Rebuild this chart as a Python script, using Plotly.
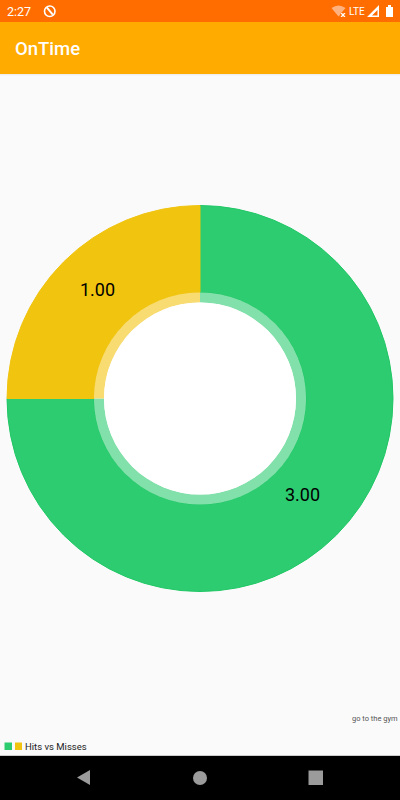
import plotly.graph_objects as go

categories = ["Hits", "Misses"]
values = [3, 1]
outer_colors = ["#2ecc71", "#f1c40f"]
edge_colors = ["#1fc765", "#f1c40f"]
ring_colors = ["#82e0aa", "#f8dc72"]
W, H = 400, 800
CX, CY = 200, 398.5
R_OUT, R_RING, R_HOLE = 193, 106, 96


def dom(r):
    return dict(x=[(CX - r) / W, (CX + r) / W], y=[1 - (CY + r) / H, 1 - (CY - r) / H])


def px(x0, y0, x1, y1, color, kind="rect", layer="below"):
    return dict(type=kind, xref="paper", yref="paper", x0=x0 / W, x1=x1 / W,
                y0=1 - y0 / H, y1=1 - y1 / H, fillcolor=color, line_width=0, layer=layer)


def path(d, color):
    return dict(type="path", xref="x", yref="y", path=d, fillcolor=color, line_width=0, layer="above")


def note(x, y, text, size, color, xanchor="left", family="Roboto", weight=None):
    return dict(xref="paper", yref="paper", x=x / W, y=1 - y / H, text=text, showarrow=False,
                xanchor=xanchor, yanchor="middle", borderpad=0, borderwidth=0,
                font=dict(size=size, color=color, family=family, weight=weight))


fig = go.Figure()
fig.add_trace(go.Pie(labels=categories, values=values, sort=False, direction="clockwise", rotation=0,
                     domain=dom(R_OUT), hole=R_RING / R_OUT,
                     marker=dict(colors=outer_colors, line=dict(width=1, color=edge_colors)),
                     textinfo="none", hoverinfo="skip", showlegend=False))
fig.add_trace(go.Pie(labels=categories, values=values, sort=False, direction="clockwise", rotation=0,
                     domain=dom(R_RING), hole=R_HOLE / R_RING,
                     marker=dict(colors=ring_colors, line=dict(width=0)),
                     textinfo="none", hoverinfo="skip", showlegend=False))

shapes = [
    px(0, 0, W, 22, "#ff6d00"),
    px(0, 22, W, 74, "#ffab00"),
    px(0, 74, W, 75, "#eeeeee"),
    px(0, 75, W, 76, "#f6f6f6"),
    px(0, 755, W, 756, "#cccccc"),
    px(0, 756, W, 800, "#000000"),
    px(CX - R_HOLE, CY - R_HOLE, CX + R_HOLE, CY + R_HOLE, "#ffffff", "circle", "above"),
    px(4.5, 742.5, 12, 750, outer_colors[0]),
    px(15, 742.5, 22, 750, outer_colors[1]),
    px(193, 771, 207, 785, "#9b9b9b", "circle"),
    px(308.5, 770.5, 323, 785, "#9b9b9b"),
    path("M 90 770 L 90 785 L 77 777.5 Z", "#9b9b9b"),
    # status bar icons
    path("M 331.5 8 Q 338.5 3 345.5 8 L 342 12 L 340 14 L 340 15 L 338.5 16.5 Z", "#ffb27f"),
    path("M 340.5 13 L 342 13 L 343 14 L 344 13 L 345.5 13 L 344 15 L 345.5 17 L 344 17 L 343 16 L 342 17 L 340.5 17 L 342 15 Z", "#ffffff"),
    path("M 367 17 L 379 5 L 379 17 Z M 372 15.5 L 377.5 15.5 L 377.5 10 Z", "#ffffff"),
    path("M 386 7 L 393 7 L 393 17 L 386 17 Z", "#ffffff"),
    path("M 388 5 L 391 5 L 391 7 L 388 7 Z", "#ffffff"),
    dict(type="circle", xref="paper", yref="paper", x0=44.5 / W, x1=55 / W, y0=1 - 6 / H, y1=1 - 16.5 / H,
         fillcolor="rgba(0,0,0,0)", line=dict(color="#ffffff", width=1.6), layer="above"),
    path("M 46 8 L 47.5 6.8 L 53.5 14 L 52 15.2 Z", "#ffffff"),
]

annotations = [
    note(7, 11.5, "2:27", 12.5, "#ffffff"),
    note(349, 11, "LTE", 10, "#ffffff"),
    note(15, 49, "OnTime", 18.5, "#ffffff", weight=500),
    note(398, 718.5, "go to the gym", 7.5, "#555555", "right"),
    note(25, 746.5, "Hits vs Misses", 9.5, "#222222"),
    note(302.5, 494, f"{values[0]:.2f}", 18, "#000000", "center"),
    note(97.5, 289, f"{values[1]:.2f}", 18, "#000000", "center"),
]

fig.update_layout(width=W, height=H, margin=dict(l=0, r=0, t=0, b=0), autosize=False,
                  paper_bgcolor="#fafafa", plot_bgcolor="rgba(0,0,0,0)", showlegend=False,
                  shapes=shapes, annotations=annotations,
                  xaxis=dict(range=[0, W], visible=False, fixedrange=True, domain=[0, 1]),
                  yaxis=dict(range=[H, 0], visible=False, fixedrange=True, domain=[0, 1]))
fig.write_html("out.html", config={"displayModeBar": False},
               post_script="document.body.style.margin='0';document.body.style.overflow='hidden';")
